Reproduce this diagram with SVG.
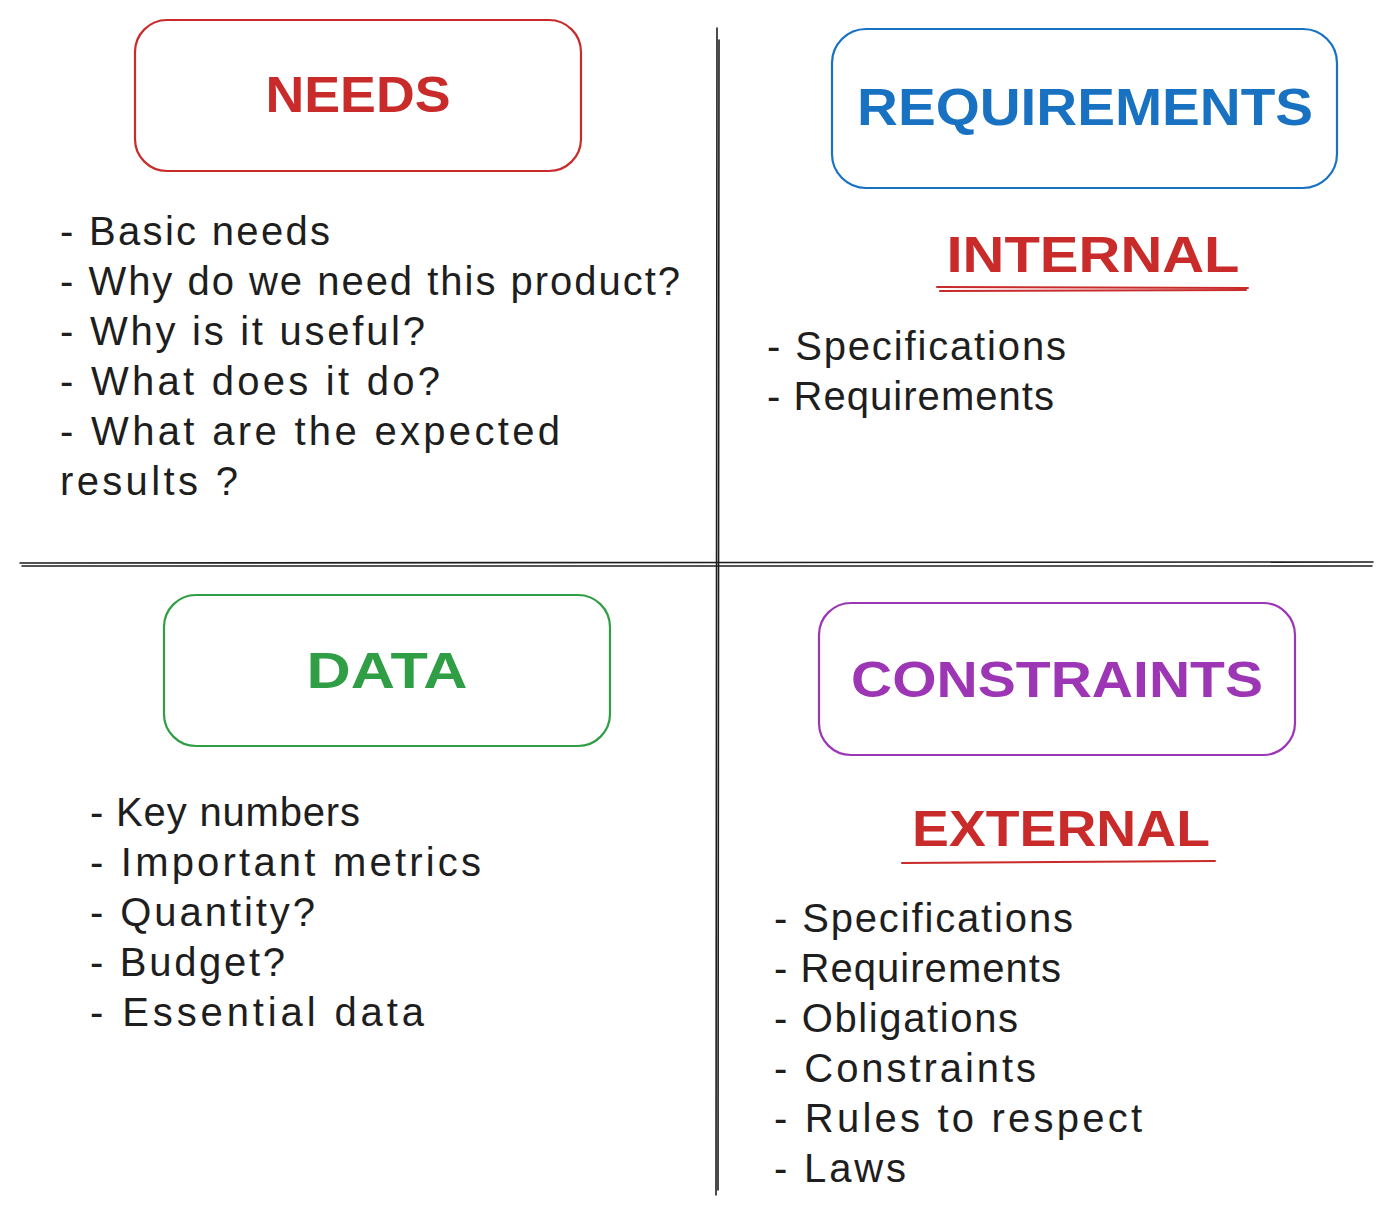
<svg xmlns="http://www.w3.org/2000/svg" width="1393" height="1215" viewBox="0 0 1393 1215">
<style>
.box{fill:none;stroke-width:2.2;stroke-linecap:round}
.t{font-family:"Liberation Sans",Arial,sans-serif;font-weight:bold;text-anchor:middle}
.b{font-family:"Liberation Sans",Arial,sans-serif;font-size:40px;fill:#1e1e1e}
.ln{stroke:#1e1e1e;stroke-width:1.6;fill:none;stroke-linecap:round}
.ul{stroke:#c92a2a;stroke-width:2;fill:none;stroke-linecap:round}
</style>
<rect width="1393" height="1215" fill="#ffffff"/>
<g id="connectors">
<path class="ln" d="M717 28 L716 1195"/>
<path class="ln" d="M719 40 L718 1190" stroke-width="1.2"/>
<path class="ln" d="M20 563 L1373 562"/>
<path class="ln" d="M22 566 L1372 566" stroke-width="1.2"/>
</g>
<g id="needs">
<rect class="box" x="135" y="20" width="446" height="151" rx="32" stroke="#c92a2a"/>
<text class="t" x="358" y="112" font-size="50" fill="#c92a2a" textLength="185" lengthAdjust="spacingAndGlyphs">NEEDS</text>
</g>
<g id="needs-list">
<text class="b" x="60" y="245" textLength="270" lengthAdjust="spacing">- Basic needs</text>
<text class="b" x="60" y="295" textLength="620" lengthAdjust="spacing">- Why do we need this product?</text>
<text class="b" x="60" y="345" textLength="365" lengthAdjust="spacing">- Why is it useful?</text>
<text class="b" x="60" y="395" textLength="380" lengthAdjust="spacing">- What does it do?</text>
<text class="b" x="60" y="445" textLength="500" lengthAdjust="spacing">- What are the expected</text>
<text class="b" x="60" y="495" textLength="178" lengthAdjust="spacing">results ?</text>
</g>
<g id="requirements">
<rect class="box" x="832" y="29" width="505" height="159" rx="34" stroke="#1971c2"/>
<text class="t" x="1085" y="125" font-size="52" fill="#1971c2" textLength="456" lengthAdjust="spacingAndGlyphs">REQUIREMENTS</text>
</g>
<g id="internal">
<text class="t" x="1093" y="272" font-size="50" fill="#c92a2a" textLength="293" lengthAdjust="spacingAndGlyphs">INTERNAL</text>
<path class="ul" d="M937 287 L1248 288"/>
<path class="ul" d="M940 291 L1246 290"/>
</g>
<g id="internal-list">
<text class="b" x="767" y="360" textLength="299" lengthAdjust="spacing">- Specifications</text>
<text class="b" x="767" y="410" textLength="287" lengthAdjust="spacing">- Requirements</text>
</g>
<g id="data">
<rect class="box" x="164" y="595" width="446" height="151" rx="32" stroke="#2f9e44"/>
<text class="t" x="387" y="688" font-size="50" fill="#2f9e44" textLength="161" lengthAdjust="spacingAndGlyphs">DATA</text>
</g>
<g id="data-list">
<text class="b" x="90" y="826" textLength="270" lengthAdjust="spacing">- Key numbers</text>
<text class="b" x="90" y="876" textLength="391" lengthAdjust="spacing">- Important metrics</text>
<text class="b" x="90" y="926" textLength="225" lengthAdjust="spacing">- Quantity?</text>
<text class="b" x="90" y="976" textLength="195" lengthAdjust="spacing">- Budget?</text>
<text class="b" x="90" y="1026" textLength="334" lengthAdjust="spacing">- Essential data</text>
</g>
<g id="constraints">
<rect class="box" x="819" y="603" width="476" height="152" rx="32" stroke="#9c36b5"/>
<text class="t" x="1057" y="697" font-size="50" fill="#9c36b5" textLength="412" lengthAdjust="spacingAndGlyphs">CONSTRAINTS</text>
</g>
<g id="external">
<text class="t" x="1061" y="846" font-size="50" fill="#c92a2a" textLength="298" lengthAdjust="spacingAndGlyphs">EXTERNAL</text>
<path class="ul" d="M902 863 L1215 861"/>
</g>
<g id="external-list">
<text class="b" x="774" y="932" textLength="299" lengthAdjust="spacing">- Specifications</text>
<text class="b" x="774" y="982" textLength="287" lengthAdjust="spacing">- Requirements</text>
<text class="b" x="774" y="1032" textLength="244" lengthAdjust="spacing">- Obligations</text>
<text class="b" x="774" y="1082" textLength="262" lengthAdjust="spacing">- Constraints</text>
<text class="b" x="774" y="1132" textLength="368" lengthAdjust="spacing">- Rules to respect</text>
<text class="b" x="774" y="1182" textLength="132" lengthAdjust="spacing">- Laws</text>
</g>
</svg>
